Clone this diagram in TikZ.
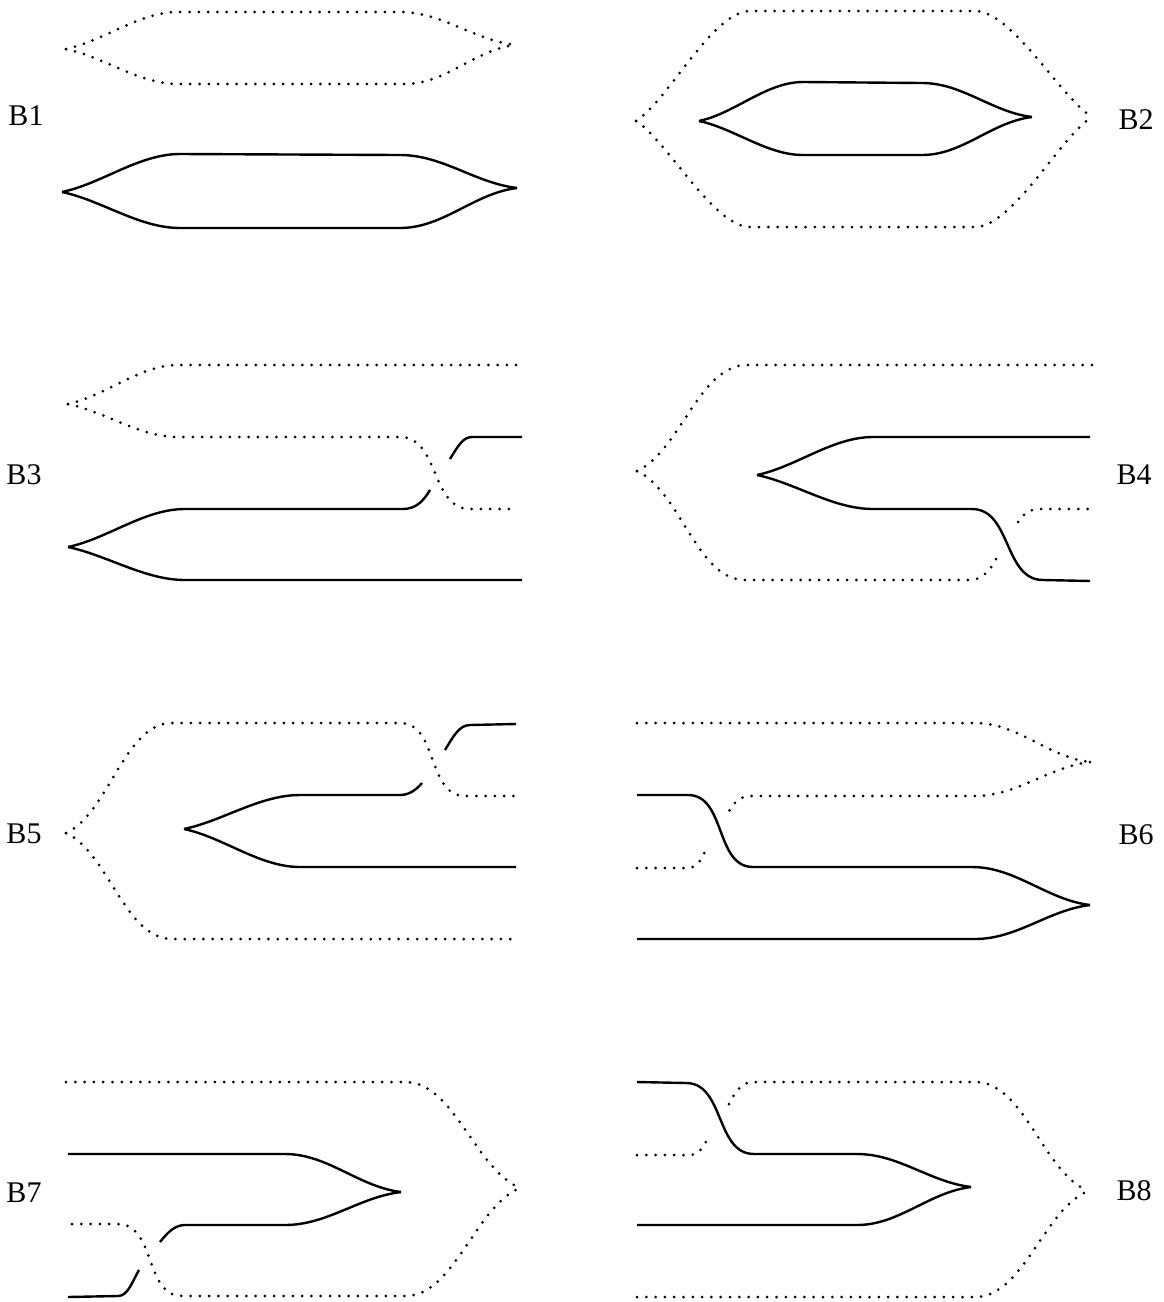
\documentclass[tikz,border=0pt]{standalone}
\usepackage{fontspec}
\setmainfont{Liberation Serif}
\begin{document}
\begin{tikzpicture}[x=1pt,y=-1pt,line join=round]
   \tikzstyle{solid strand}=[line width=2.4pt]
   \tikzstyle{dotted strand}=[line width=3pt, line cap=round, dash pattern=on 0pt off 9.3pt]
   \tikzstyle{sbend}=[out=0, in=180]
   \tikzstyle{fork up}=[out=12, in=180, looseness=0.85]
   \tikzstyle{fork down}=[out=-12, in=180, looseness=0.85]
   \tikzstyle{merge up}=[out=0, in=187, looseness=0.9]
   \tikzstyle{merge down}=[out=0, in=173, looseness=0.9]
   \tikzstyle{wide fork up}=[out=25, in=180, looseness=0.8]
   \tikzstyle{wide fork down}=[out=-25, in=180, looseness=0.8]
   \tikzstyle{wide merge up}=[out=0, in=203, looseness=0.8]
   \tikzstyle{wide merge down}=[out=0, in=157, looseness=0.8]
   \tikzstyle{blabel}=[font=\fontsize{30}{30}\selectfont, inner sep=0pt]
   \useasboundingbox (0,0) rectangle (1164,1302);
   \foreach \i/\x/\y in {1/26/116,2/1136/120,3/24/475,4/1134/475,5/24/834,6/1136/835,7/24/1193,8/1134/1191} {
       \node[blabel] (b\i) at (\x,\y) {B\i};
   }
   % B1
   \draw[dotted strand] (66,49) to[fork up] (178,12) -- (400,12) to[merge down] (515,45);
   \draw[dotted strand] (66,49) to[fork down] (178,84) -- (405,84) to[merge up] (515,45);
   \draw[solid strand] (62,192) to[fork up] (180,154) -- (400,155) to[merge down] (517,188);
   \draw[solid strand] (62,192) to[fork down] (180,228) -- (400,228) to[merge up] (517,188);
   % B2
   \draw[dotted strand] (636,121) to[wide fork up, out=32, looseness=0.6] (750,11) -- (975,11) to[wide merge down, in=148, looseness=0.6] (1092,117);
   \draw[dotted strand] (636,121) to[wide fork down, out=-32, looseness=0.6] (750,227) -- (975,227) to[wide merge up, in=212, looseness=0.6] (1092,117);
   \draw[solid strand] (699,121) to[fork up] (803,82) -- (922,83) to[merge down] (1032,117);
   \draw[solid strand] (699,121) to[fork down] (803,155) -- (922,155) to[merge up] (1032,117);
   % B3
   \draw[dotted strand] (68,404) to[fork up] (178,365) -- (524,365);
   \draw[dotted strand] (68,404) to[fork down] (178,437) -- (400,437) to[sbend] (470,509) -- (516,509);
   \draw[solid strand] (68,547) to[fork up] (185,509) -- (403,509) .. controls (415,509) and (423,502) .. (430,490);
   \draw[solid strand] (450,459) .. controls (458,446) and (463,437) .. (472,437) -- (522,437);
   \draw[solid strand] (68,547) to[fork down] (185,580) -- (522,580);
   % B4
   \draw[dotted strand] (637,471) to[wide fork up] (747,365) -- (1092,365);
   \draw[dotted strand] (637,471) to[wide fork down] (745,580) -- (970,580) .. controls (982,580) and (991,570) .. (997,557);
   \draw[dotted strand] (1018,522) .. controls (1024,513) and (1030,509) .. (1040,509) -- (1092,509);
   \draw[solid strand] (757,475) to[fork up] (873,437) -- (1090,437);
   \draw[solid strand] (757,475) to[fork down] (873,509) -- (972,509) to[sbend] (1043,580) -- (1090,581);
   % B5
   \draw[dotted strand] (66,833) to[wide fork up] (172,723) -- (400,723) to[sbend] (465,796) -- (514,796);
   \draw[dotted strand] (66,833) to[wide fork down] (172,939) -- (519,939);
   \draw[solid strand] (184,829) to[fork up] (300,795) -- (400,795) .. controls (409,795) and (416,790) .. (422,783);
   \draw[solid strand] (445,750) .. controls (453,737) and (459,725) .. (470,725) -- (516,724);
   \draw[solid strand] (184,829) to[fork down] (300,867) -- (516,867);
   % B6
   \draw[dotted strand] (637,723) -- (975,723) to[merge down] (1090,762);
   \draw[dotted strand] (1090,762) to[out=187, in=0, looseness=0.9] (975,796) -- (750,796) .. controls (740,796) and (733,803) .. (728,813);
   \draw[dotted strand] (637,868) -- (688,868) .. controls (698,868) and (702,858) .. (708,845);
   \draw[solid strand] (637,795) -- (688,795) to[sbend] (753,867) -- (972,867) to[merge down] (1090,905);
   \draw[solid strand] (637,939) -- (975,939) to[merge up] (1090,905);
   % B7
   \draw[dotted strand] (66,1082) -- (405,1082) to[wide merge down] (520,1188);
   \draw[dotted strand] (72,1224) -- (118,1224) to[sbend] (182,1296) -- (405,1296) to[wide merge up] (520,1188);
   \draw[solid strand] (68,1154) -- (285,1154) to[merge down] (401,1192);
   \draw[solid strand] (160,1242) .. controls (168,1232) and (175,1225) .. (185,1225) -- (285,1225) to[merge up] (401,1192);
   \draw[solid strand] (68,1297) -- (118,1296) .. controls (128,1296) and (132,1282) .. (139,1270);
   % B8
   \draw[dotted strand] (637,1155) -- (690,1155) .. controls (698,1155) and (703,1148) .. (708,1138);
   \draw[dotted strand] (729,1104) .. controls (735,1092) and (742,1082) .. (752,1082) -- (975,1082) to[wide merge down] (1088,1191);
   \draw[dotted strand] (637,1297) -- (975,1297) to[wide merge up] (1088,1191);
   \draw[solid strand] (637,1082) -- (686,1083) to[sbend] (754,1154) -- (857,1154) to[merge down] (971,1187);
   \draw[solid strand] (637,1225) -- (857,1225) to[merge up] (971,1187);
\end{tikzpicture}
\end{document}
